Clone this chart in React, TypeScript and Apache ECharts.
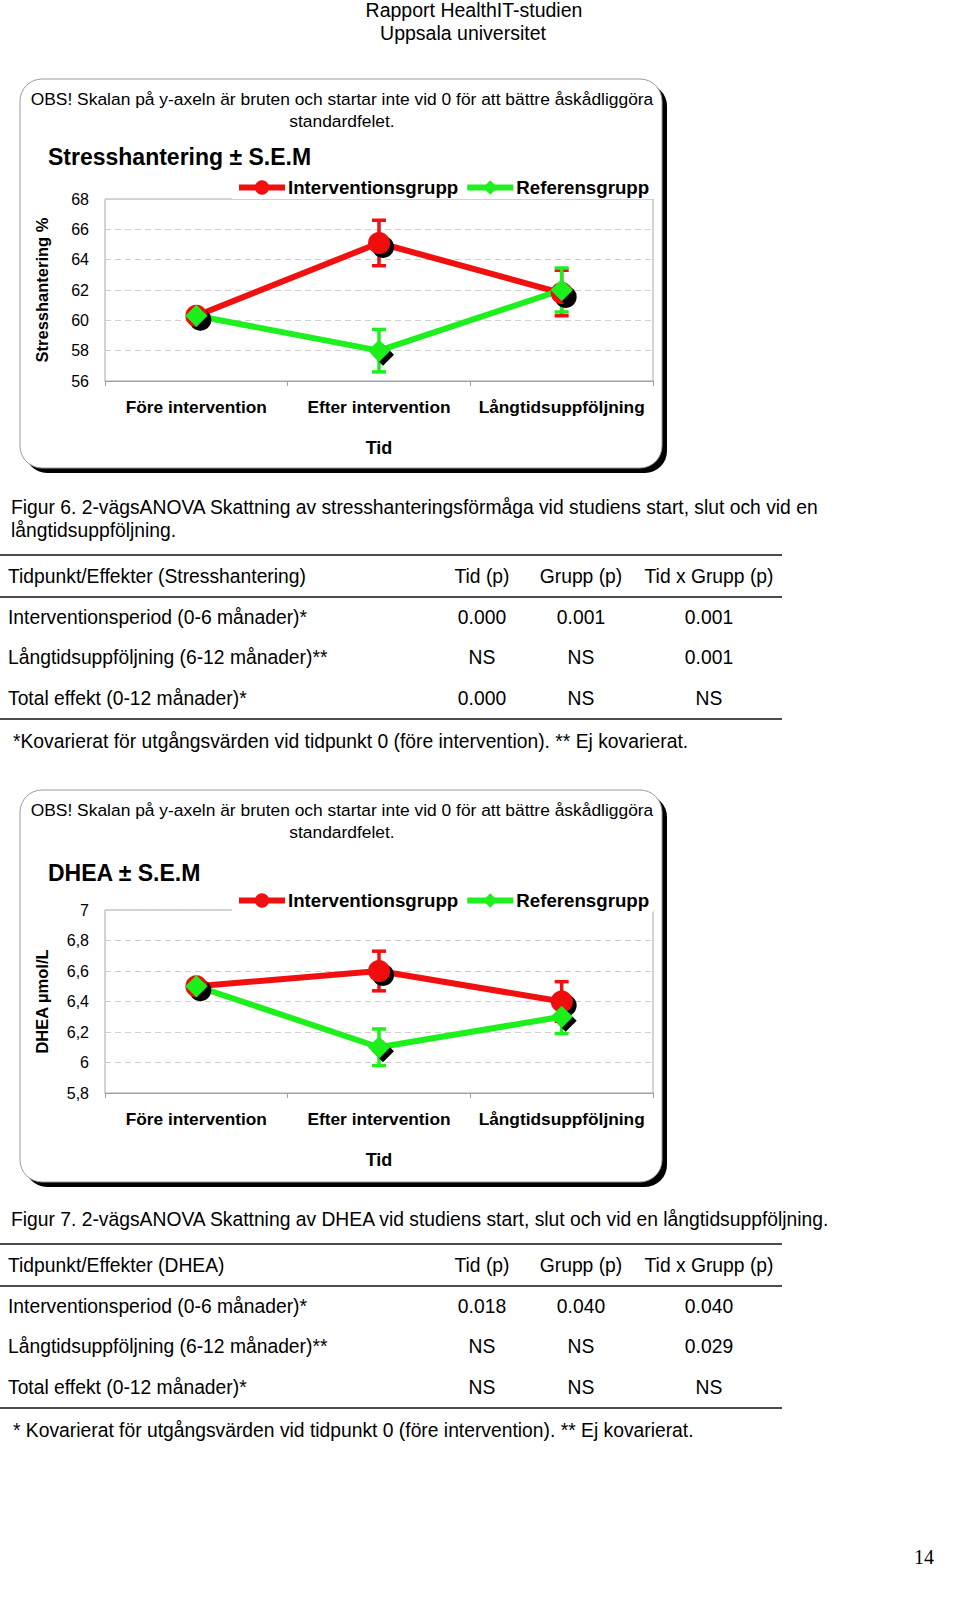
import React, { useEffect, useRef } from "react";
import * as echarts from "echarts";

// ---------- data ----------
const categories = ["Före intervention", "Efter intervention", "Långtidsuppföljning"];
const seriesNames = ["Interventionsgrupp", "Referensgrupp"];

const stressInterv = [60.3, 65.1, 61.8];
const stressIntervSem = [0, 1.5, 1.5];
const stressRef = [60.3, 58.0, 62.0];
const stressRefSem = [0, 1.4, 1.45];

const dheaInterv = [6.5, 6.6, 6.4];
const dheaIntervSem = [0, 0.13, 0.13];
const dheaRef = [6.5, 6.1, 6.3];
const dheaRefSem = [0, 0.12, 0.11];

const stressAxis = { min: 56, max: 68, interval: 2 };
const dheaAxis = { min: 5.8, max: 7, interval: 0.2 };

const headerLines = ["Rapport HealthIT-studien", "Uppsala universitet"];
const obsLines = [
  "OBS! Skalan på y-axeln är bruten och startar inte vid 0 för att bättre åskådliggöra",
  "standardfelet.",
];
const chartTitles = ["Stresshantering ± S.E.M", "DHEA ± S.E.M"];
const yAxisNames = ["Stresshantering %", "DHEA µmol/L"];
const xAxisName = "Tid";

const caption6 = [
  "Figur 6. 2-vägsANOVA Skattning av stresshanteringsförmåga vid studiens start, slut och vid en",
  "långtidsuppföljning.",
];
const caption7 = ["Figur 7. 2-vägsANOVA Skattning av DHEA vid studiens start, slut och vid en långtidsuppföljning."];

const table1Header = ["Tidpunkt/Effekter (Stresshantering)", "Tid (p)", "Grupp (p)", "Tid x Grupp (p)"];
const table1Rows = [
  ["Interventionsperiod (0-6 månader)*", "0.000", "0.001", "0.001"],
  ["Långtidsuppföljning (6-12 månader)**", "NS", "NS", "0.001"],
  ["Total effekt (0-12 månader)*", "0.000", "NS", "NS"],
];
const table1Note = "*Kovarierat för utgångsvärden vid tidpunkt 0 (före intervention). ** Ej kovarierat.";

const table2Header = ["Tidpunkt/Effekter (DHEA)", "Tid (p)", "Grupp (p)", "Tid x Grupp (p)"];
const table2Rows = [
  ["Interventionsperiod (0-6 månader)*", "0.018", "0.040", "0.040"],
  ["Långtidsuppföljning (6-12 månader)**", "NS", "NS", "0.029"],
  ["Total effekt (0-12 månader)*", "NS", "NS", "NS"],
];
const table2Note = "* Kovarierat för utgångsvärden vid tidpunkt 0 (före intervention). ** Ej kovarierat.";

const pageNumber = "14";

// ---------- styles ----------
const RED = "#f01010";
const GREEN = "#1ef01e";
const F_CHART = '"Liberation Sans", Arial, sans-serif';
const F_DOC = '"Liberation Sans", Arial, sans-serif';
const DOC_SIZE = 19.3;

function errRender(color: string) {
  return (params: any, api: any) => {
    const i = api.value(0);
    const v = api.value(1);
    const e = api.value(2);
    if (!e) return { type: "group", children: [] };
    const top = api.coord([i, v + e]);
    const bot = api.coord([i, v - e]);
    const w = 7;
    const st = { stroke: color, lineWidth: 3.5 };
    return {
      type: "group",
      children: [
        { type: "line", shape: { x1: top[0], y1: top[1], x2: bot[0], y2: bot[1] }, style: st },
        { type: "line", shape: { x1: top[0] - w, y1: top[1], x2: top[0] + w, y2: top[1] }, style: st },
        { type: "line", shape: { x1: bot[0] - w, y1: bot[1], x2: bot[0] + w, y2: bot[1] }, style: st },
      ],
    };
  };
}

function lineSeries(name: string, data: number[], idx: number, color: string, symbol: string) {
  return {
    name,
    type: "line",
    xAxisIndex: idx,
    yAxisIndex: idx,
    data,
    symbol,
    symbolSize: 22,
    lineStyle: { color, width: 6 },
    itemStyle: { color, shadowColor: "#000", shadowBlur: 1, shadowOffsetX: 4, shadowOffsetY: 4 },
    emphasis: { disabled: true },
  };
}

function errSeries(id: string, vals: number[], sem: number[], idx: number, color: string) {
  return {
    id,
    type: "custom",
    xAxisIndex: idx,
    yAxisIndex: idx,
    data: vals.map((v, i) => [i, v, sem[i]]),
    encode: { x: 0, y: 1 },
    renderItem: errRender(color),
    silent: true,
  };
}

function text(t: string, x: number, y: number, font: string, align = "left", fill = "#000") {
  return {
    type: "text",
    silent: true,
    style: { text: t, x, y, font, fill, textAlign: align, textVerticalAlign: "middle" },
  };
}

function hline(x1: number, x2: number, y: number, w = 1.5) {
  return { type: "line", silent: true, shape: { x1, y1: y, x2, y2: y }, style: { stroke: "#111", lineWidth: w } };
}

function box(top: number, bottom: number) {
  const left = 20;
  const right = 662;
  return [
    {
      type: "rect",
      silent: true,
      z: -10,
      shape: { x: left + 5, y: top + 5, width: right - left, height: bottom - top, r: 22 },
      style: { fill: "#000" },
    },
    {
      type: "rect",
      silent: true,
      z: -9,
      shape: { x: left, y: top, width: right - left, height: bottom - top, r: 22 },
      style: { fill: "#fff", stroke: "#9a9a9a", lineWidth: 1 },
    },
  ];
}

function table(header: string[], rows: string[][], note: string, topY: number) {
  const cols = [482, 581, 709];
  const els: any[] = [];
  const fnt = `${DOC_SIZE}px ${F_DOC}`;
  els.push(hline(0, 782, topY));
  els.push(text(header[0], 8, topY + 21, fnt));
  for (let c = 1; c < 4; c++) els.push(text(header[c], cols[c - 1], topY + 21, fnt, "center"));
  els.push(hline(0, 782, topY + 42));
  rows.forEach((r, ri) => {
    const y = topY + 62 + ri * 40.7;
    els.push(text(r[0], 8, y, fnt));
    for (let c = 1; c < 4; c++) els.push(text(r[c], cols[c - 1], y, fnt, "center"));
  });
  els.push(hline(0, 782, topY + 164));
  els.push(text(note, 13, topY + 186, fnt));
  return els;
}

function chartTexts(top: number) {
  return [
    text(obsLines[0], 342, top + 20, `17.4px ${F_CHART}`, "center"),
    text(obsLines[1], 342, top + 42, `17.4px ${F_CHART}`, "center"),
  ];
}

function yAxis(idx: number, cfg: any, name: string, fmt?: (v: number) => string) {
  return {
    type: "value",
    gridIndex: idx,
    min: cfg.min,
    max: cfg.max,
    interval: cfg.interval,
    name,
    nameLocation: "middle",
    nameGap: 55,
    nameTextStyle: { fontFamily: F_CHART, fontWeight: "bold", fontSize: 16.5, color: "#000" },
    axisLine: { show: false },
    axisTick: { show: false },
    axisLabel: { fontFamily: F_CHART, fontSize: 16, color: "#000", margin: 16, formatter: fmt },
    splitLine: { show: true, lineStyle: { color: "#cfcfcf", type: [6, 4], width: 1 } },
  };
}

function xAxis(idx: number) {
  return {
    type: "category",
    gridIndex: idx,
    data: categories,
    boundaryGap: true,
    name: xAxisName,
    nameLocation: "middle",
    nameGap: 58,
    nameTextStyle: { fontFamily: F_CHART, fontWeight: "bold", fontSize: 18, color: "#000" },
    axisLine: { show: true, lineStyle: { color: "#a0a0a0", width: 1 } },
    axisTick: { show: true, length: 5, lineStyle: { color: "#a0a0a0" } },
    axisLabel: { fontFamily: F_CHART, fontWeight: "bold", fontSize: 17.3, color: "#000", margin: 17, interval: 0 },
  };
}

function legend(top: number) {
  return {
    left: 232,
    top,
    orient: "horizontal",
    itemWidth: 46,
    itemHeight: 18,
    itemGap: 6,
    backgroundColor: "#fff",
    padding: [2, 4, 2, 4],
    data: seriesNames,
    selectedMode: false,
    lineStyle: { width: 6 },
    itemStyle: { shadowBlur: 0, shadowOffsetX: 0, shadowOffsetY: 0, shadowColor: "transparent" },
    textStyle: { fontFamily: F_CHART, fontWeight: "bold", fontSize: 18.7, color: "#000", padding: [0, 0, 0, -2] },
  };
}

export default function App() {
  const ref = useRef<HTMLDivElement>(null);
  useEffect(() => {
    if (!ref.current) return;
    const chart = echarts.init(ref.current, null, { renderer: "svg" });
    const dheaFmt = (v: number) => String(Math.round(v * 10) / 10).replace(".", ",");
    const graphics: any[] = [
      text(headerLines[0], 474, 10, `19.5px ${F_DOC}`, "center"),
      text(headerLines[1], 463, 33, `19.5px ${F_DOC}`, "center"),
      ...box(79, 468),
      ...chartTexts(79),
      text(chartTitles[0], 48, 157, `bold 23px ${F_CHART}`),
      text(caption6[0], 11, 507, `${DOC_SIZE}px ${F_DOC}`),
      text(caption6[1], 11, 530, `${DOC_SIZE}px ${F_DOC}`),
      ...table(table1Header, table1Rows, table1Note, 555),
      ...box(790, 1182),
      ...chartTexts(790),
      text(chartTitles[1], 48, 873, `bold 23px ${F_CHART}`),
      text(caption7[0], 11, 1219, `${DOC_SIZE}px ${F_DOC}`),
      ...table(table2Header, table2Rows, table2Note, 1244),
      text(pageNumber, 924, 1557, `20px "Liberation Serif", "Times New Roman", serif`, "center"),
    ];
    chart.setOption({
      animation: false,
      backgroundColor: "#fff",
      grid: [
        { left: 105, top: 199, width: 548, height: 182, show: true, borderColor: "#a8a8a8", borderWidth: 1, backgroundColor: "transparent" },
        { left: 105, top: 910, width: 548, height: 183, show: true, borderColor: "#a8a8a8", borderWidth: 1, backgroundColor: "transparent" },
      ],
      xAxis: [xAxis(0), xAxis(1)],
      yAxis: [yAxis(0, stressAxis, yAxisNames[0]), yAxis(1, dheaAxis, yAxisNames[1], dheaFmt)],
      legend: [legend(176), legend(889)],
      series: [
        lineSeries(seriesNames[0], stressInterv, 0, RED, "circle"),
        errSeries("e1", stressInterv, stressIntervSem, 0, RED),
        lineSeries(seriesNames[1], stressRef, 0, GREEN, "diamond"),
        errSeries("e2", stressRef, stressRefSem, 0, GREEN),
        lineSeries(seriesNames[0], dheaInterv, 1, RED, "circle"),
        errSeries("e3", dheaInterv, dheaIntervSem, 1, RED),
        lineSeries(seriesNames[1], dheaRef, 1, GREEN, "diamond"),
        errSeries("e4", dheaRef, dheaRefSem, 1, GREEN),
      ],
      graphic: graphics,
    });
    return () => chart.dispose();
  }, []);
  return <div ref={ref} style={{ position: "absolute", left: 0, top: 0, width: 960, height: 1607 }} />;
}
